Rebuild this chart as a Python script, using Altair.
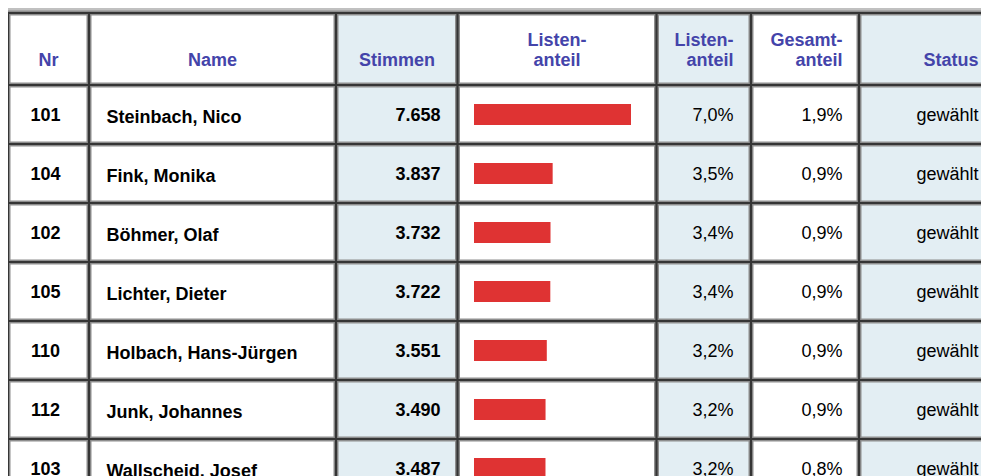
import altair as alt
import pandas as pd

# ---------------- data ----------------
nr = [101, 104, 102, 105, 110, 112, 103]
names = ["Steinbach, Nico", "Fink, Monika", "Böhmer, Olaf", "Lichter, Dieter",
         "Holbach, Hans-Jürgen", "Junk, Johannes", "Wallscheid, Josef"]
stimmen = [7658, 3837, 3732, 3722, 3551, 3490, 3487]
listen_anteil = [7.0, 3.5, 3.4, 3.4, 3.2, 3.2, 3.2]
gesamt_anteil = [1.9, 0.9, 0.9, 0.9, 0.9, 0.9, 0.8]
status = ["gewählt"] * 7

headers = [  # (column, line texts)
    ("nr", ["Nr"]),
    ("name", ["Name"]),
    ("stimmen", ["Stimmen"]),
    ("bar", ["Listen-", "anteil"]),
    ("listen", ["Listen-", "anteil"]),
    ("gesamt", ["Gesamt-", "anteil"]),
    ("status", ["Status"]),
]

# ---------------- layout (page pixel coordinates) ----------------
W, H = 973, 468
FONT = "Liberation Sans"
HEAD_COLOR = "#4444aa"
BLUE = "#e3eef3"
RED = "#df3333"
col_edges = [8, 89, 336, 457.5, 656.5, 751, 859, 1000]
col_fill = ["#ffffff", "#ffffff", BLUE, "#ffffff", BLUE, "#ffffff", BLUE]
row_lines = [13, 85, 144, 203, 262, 321, 380, 439, 498]
PITCH = 59
BASE0 = 121
BAR_LEFT, BAR_MAXW = 474, 157
STATUS_RIGHT = 978.5

# header anchors: x, align
head_anchor = {
    "nr": (48.5, "center"), "name": (212.5, "center"), "stimmen": (397, "center"),
    "bar": (557, "center"), "listen": (733.5, "right"), "gesamt": (842.5, "right"),
    "status": (STATUS_RIGHT, "right"),
}

PX = alt.Scale(domain=[8, 8 + W], range=[0, W], nice=False, zero=False)
PY = alt.Scale(domain=[8, 8 + H], range=[0, H], nice=False, zero=False)


def X(f):
    return alt.X(f, type="quantitative", scale=PX, axis=None)


def Y(f):
    return alt.Y(f, type="quantitative", scale=PY, axis=None)


# column backgrounds
bg = pd.DataFrame({"x": col_edges[:-1], "x2": col_edges[1:], "fill": col_fill,
                   "y": 13, "y2": 520})
bg_layer = alt.Chart(bg).mark_rect(clip=True).encode(
    x=X("x"), x2="x2", y=Y("y"), y2="y2",
    color=alt.Color("fill:N", scale=None))

# borders
vl = pd.DataFrame({"x": col_edges[:-1], "y": 12, "y2": 520})
hl = pd.DataFrame({"y": row_lines, "x": 7, "x2": 1000})


def borders(width, color):
    v = alt.Chart(vl).mark_rule(strokeWidth=width, color=color, clip=True).encode(
        x=X("x"), y=Y("y"), y2="y2")
    h = alt.Chart(hl).mark_rule(strokeWidth=width, color=color, clip=True).encode(
        y=Y("y"), x=X("x"), x2="x2")
    return [v, h]


# bars (own scale, votes -> pixels)
bars = pd.DataFrame({"stimmen": stimmen, "row": range(len(stimmen))})
bars["yc"] = 114.5 + PITCH * bars["row"]
bar_layer = alt.Chart(bars).mark_rect(color=RED, clip=True).transform_calculate(
    y1="datum.yc - 10.5", y2="datum.yc + 10.5").encode(
    x=alt.X("stimmen:Q", scale=alt.Scale(domain=[0, max(stimmen)],
                                         range=[BAR_LEFT - 8, BAR_LEFT - 8 + BAR_MAXW],
                                         nice=False, zero=False), axis=None),
    x2=alt.datum(0),
    y=Y("y1"), y2="y2")

# header texts
hrows = []
for col, lines in headers:
    x, al = head_anchor[col]
    base = 66 - 20 * (len(lines) - 1)
    for i, t in enumerate(lines):
        hrows.append({"text": t, "x": x, "y": base + 20 * i, "align": al})
hdf = pd.DataFrame(hrows)


def text_layer(df, align, weight, color):
    return alt.Chart(df).mark_text(
        align=align, baseline="alphabetic", font=FONT, fontSize=18,
        fontWeight=weight, color=color, clip=True).encode(
        x=X("x"), y=Y("y"), text="text:N")


head_layers = [text_layer(hdf[hdf["align"] == a], a, "bold", HEAD_COLOR)
               for a in ["center", "right"]]

# body texts
n = len(nr)
rows = list(range(n))


def body(texts, x, dy=0):
    return pd.DataFrame({"text": texts, "x": x,
                         "y": [BASE0 + dy + PITCH * r for r in rows]})


fmt_int = [f"{v:,}".replace(",", ".") for v in stimmen]
fmt_la = [f"{v:.1f}".replace(".", ",") + "%" for v in listen_anteil]
fmt_ga = [f"{v:.1f}".replace(".", ",") + "%" for v in gesamt_anteil]

body_layers = [
    text_layer(body([str(v) for v in nr], 45.5), "center", "bold", "#000000"),
    text_layer(body(names, 106.5, dy=2), "left", "bold", "#000000"),
    text_layer(body(fmt_int, 440.5), "right", "bold", "#000000"),
    text_layer(pd.concat([body(fmt_la, 733.5), body(fmt_ga, 842.5),
                          body(status, STATUS_RIGHT)]), "right", "normal", "#000000"),
]

layers = [bg_layer, bar_layer] + borders(5, "#8e8e8e") + borders(2.2, "#353535") \
    + head_layers + body_layers

chart = alt.layer(*layers).resolve_scale(x="independent").properties(
    width=W, height=H, padding=0,
    autosize=alt.AutoSizeParams(type="none"),
).configure(background="#c0c0c0").configure_view(stroke=None)

chart.save("out.html", embed_options={"renderer": "svg", "actions": False})
